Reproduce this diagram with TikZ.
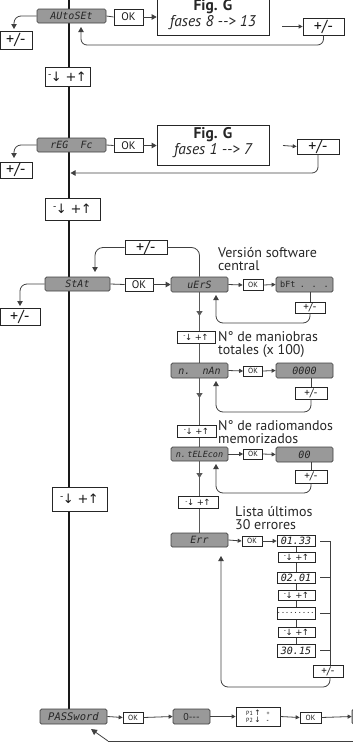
\documentclass[tikz,border=0pt]{standalone}
\usepackage{fontspec}
\setmainfont{PT Sans}
\newfontfamily\djv{DejaVu Sans}
\newfontfamily\lcdf{DejaVu Sans Mono}
\usetikzlibrary{arrows.meta,backgrounds}
\newcommand\udt{{\djv\raisebox{0.55ex}{\scalebox{0.7}{-}}\kern-0.05em↓\hspace{0.3em}+\kern-0.05em↑}}
\newcommand\lblf{\fontsize{14}{13}\selectfont}
\tikzset{
  sz/.style 2 args={minimum width=#1pt, minimum height=#2pt},
  disp/.style={draw=black!75, fill=black!40, rounded corners=1.5pt, line width=0.7pt, inner sep=0pt, text=black!85, font=\lcdf\itshape\fontsize{10}{10}\selectfont},
  wb/.style={draw=black!85, fill=white, line width=0.7pt, inner sep=0pt, text=black!90},
  okbig/.style={wb, font=\fontsize{11}{11}\selectfont},
  oksm/.style={wb, font=\fontsize{7.5}{7.5}\selectfont},
  pmbig/.style={wb, font=\fontsize{16}{16}\selectfont},
  pmsm/.style={wb, font=\fontsize{11}{11}\selectfont},
  udbig/.style={wb, font=\fontsize{13}{13}\selectfont},
  udsm/.style={wb, font=\fontsize{8.5}{8.5}\selectfont},
  errbox/.style={wb, font=\lcdf\itshape\fontsize{10}{10}\selectfont},
  con/.style={draw=black!75, line width=0.8pt},
  arr/.style={con, -{Triangle[length=5pt,width=5.5pt]}},
  sarr/.style={con, -{Triangle[length=4pt,width=4pt]}},
  mainl/.style={draw=black!90, line width=2pt},
  subl/.style={draw=black!65, line width=1.4pt},
  lbl/.style={anchor=west, inner sep=0pt, align=left, font=\lblf, text=black!85},
  figt/.style={inner sep=0pt, font=\fontsize{15}{15}\selectfont, text=black!85}
}
\begin{document}
\begin{tikzpicture}[x=1pt,y=-1pt]
\clip (0,0) rectangle (353,742);
% ---------- AUtoSEt row ----------
\node[disp, sz={69}{14}] (auto) at (71.5,16) {AUtoSEt};
\node[okbig, sz={29}{16}] (ok1) at (128.5,17) {OK};
\node[wb, sz={112}{44}] (fig1) at (213,13) {};
\node[figt, font=\bfseries\fontsize{15.5}{15}\selectfont] (fig1a) at (213,7) {Fig. G};
\node[figt, font=\itshape\fontsize{15.5}{15}\selectfont] (fig1b) at (213,23) {fases 8 -\kern0pt-\kern0pt> 13};
\coordinate (a1s) at (282,26.5);
\node[pmbig, sz={41}{17}] (pm1) at (323.5,26.5) {+/-};
\node[pmbig, sz={32}{18}] (pmL1) at (16,40) {+/-};
\coordinate (l1) at (14,29);
\coordinate (c1) at (81,45);
\coordinate (t1) at (81,27);
\draw[con] (auto.east) -- (ok1.west);
\draw[arr] (ok1.east) -- (fig1.west |- ok1.east);
\draw[sarr] (a1s) -- (pm1.west);
\draw[arr, rounded corners=6pt] (pm1.south) |- (c1) -- (t1);
\draw[arr, rounded corners=7pt] (auto.west) -| (l1);
\node[udbig, sz={45}{19}] (ud1) at (67.5,76.5) {\udt};
% ---------- rEG Fc row ----------
\node[disp, sz={69}{14}] (reg) at (71.5,145) {rEG\ \ Fc};
\node[okbig, sz={29}{14}] (ok2) at (128.5,145.5) {OK};
\node[wb, sz={112}{40}] (fig2) at (213,145) {};
\node[figt, font=\bfseries\fontsize{15.5}{15}\selectfont] (fig2a) at (213,135) {Fig. G};
\node[figt, font=\itshape\fontsize{15.5}{15}\selectfont] (fig2b) at (213,151) {fases 1 -\kern0pt-\kern0pt> 7};
\coordinate (a2s) at (283,145.5);
\node[pmbig, sz={42}{15}] (pm2) at (318,146.5) {+/-};
\node[pmbig, sz={32}{16}] (pmL2) at (16,170) {+/-};
\coordinate (l2) at (14,158);
\coordinate (c2) at (318,173);
\coordinate (t2) at (70.5,173);
\draw[con] (reg.east) -- (ok2.west);
\draw[arr] (ok2.east) -- (fig2.west |- ok2.east);
\draw[sarr] (a2s) -- (pm2.west);
\draw[arr, rounded corners=6pt] (pm2.south) -- (c2) -- (t2);
\draw[arr, rounded corners=7pt] (reg.west) -| (l2);
\node[udbig, sz={55}{22}] (ud2) at (72.5,209) {\udt};
% ---------- STAt row ----------
\node[disp, sz={65}{14}] (stat) at (77.5,284) {StAt};
\node[okbig, sz={28}{13}] (okS) at (139,284.5) {OK};
\node[disp, sz={57}{15}] (uers) at (199.5,284.5) {uErS};
\node[pmbig, sz={42}{13}] (pmtop) at (146,247.5) {+/-};
\node[pmbig, sz={40}{17}] (pmL3) at (20,316.5) {+/-};
\coordinate (l3) at (20,306);
\coordinate (l4) at (95,272);
\draw[con] (stat.east) -- (okS.west);
\draw[arr] (okS.east) -- (uers.west);
\draw[con, rounded corners=8pt] (pmtop.east) -| (uers.north);
\draw[arr, rounded corners=8pt] (pmtop.west) -| (l4);
\draw[arr, rounded corners=7pt] (stat.west) -| (l3);
\node[lbl] (txv) at (218,259) {Versión software\\central};
% uErS sub row
\node[oksm, sz={20}{11}] (okv) at (253,285) {OK};
\node[disp, sz={57}{15}, font=\lcdf\fontsize{8.5}{8.5}\selectfont] (bft) at (304.5,284.5) {bFt\enspace. . .};
\node[pmsm, sz={30}{11}] (pmv) at (310,307.5) {+/-};
\coordinate (c3) at (216,323);
\coordinate (t3) at (216,295);
\draw[sarr] (uers.east) -- (okv.west);
\draw[sarr] (okv.east) -- (bft.west);
\draw[con] (pmv.north |- bft.south) -- (pmv.north);
\draw[arr, rounded corners=7pt] (pmv.south) |- (c3) -- (t3);
% n. nAn
\node[udsm, sz={38}{12}] (udA) at (196,337) {\udt};
\node[lbl] (txn) at (218,345) {N° de maniobras\\totales (x 100)};
\node[disp, sz={57}{15}] (nman) at (199.5,370.5) {n.\ \ nAn};
\node[oksm, sz={19}{10}] (okn) at (253,371) {OK};
\node[disp, sz={57}{15}] (v0000) at (304.5,370.5) {0000};
\node[pmsm, sz={32}{12}] (pmn) at (311,393) {+/-};
\coordinate (c4) at (216,412);
\coordinate (t4) at (216,381);
\draw[sarr] (nman.east) -- (okn.west);
\draw[sarr] (okn.east) -- (v0000.west);
\draw[con] (pmn.north |- v0000.south) -- (pmn.north);
\draw[arr, rounded corners=7pt] (pmn.south) |- (c4) -- (t4);
% n. tELEcon
\node[udsm, sz={39}{12}] (udB) at (196.5,431) {\udt};
\node[lbl] (txr) at (218,432) {N° de radiomandos\\memorizados};
\node[disp, sz={57}{14}, font=\lcdf\itshape\fontsize{8.5}{8.5}\selectfont] (ntel) at (199.5,454) {n.\,tELEcon};
\node[oksm, sz={19}{10}] (okt) at (253,454) {OK};
\node[disp, sz={57}{15}] (v00) at (304.5,454.5) {00};
\node[pmsm, sz={32}{13}] (pmt) at (311,476.5) {+/-};
\coordinate (c5) at (216,493);
\coordinate (t5) at (216,464);
\draw[sarr] (ntel.east) -- (okt.west);
\draw[sarr] (okt.east) -- (v00.west);
\draw[con] (pmt.north |- v00.south) -- (pmt.north);
\draw[arr, rounded corners=7pt] (pmt.south) |- (c5) -- (t5);
% Err
\node[udsm, sz={40}{12}] (udC) at (198,502.5) {\udt};
\node[lbl] (txe) at (235,518) {Lista últimos\\30 errores};
\node[disp, sz={57}{14}] (err) at (199.5,540) {Err};
\node[oksm, sz={20}{10}] (oke) at (252,541) {OK};
\node[errbox, sz={38}{11}] (e1) at (296,541) {01.33};
\node[udsm, sz={37}{10}] (ue1) at (296.5,557) {\udt};
\node[errbox, sz={38}{11}] (e2) at (296,577.5) {02.01};
\node[udsm, sz={37}{10}] (ue2) at (296.5,595) {\udt};
\node[errbox, sz={38}{12}] (e3) at (296,613) {\fontsize{7}{7}\selectfont .........};
\node[udsm, sz={37}{10}] (ue3) at (296.5,632) {\udt};
\node[errbox, sz={38}{13}] (e4) at (296,650.5) {30.15};
\node[pmsm, sz={30}{12}] (pme) at (328,671) {+/-};
\coordinate (bk) at (330,541);
\coordinate (c6) at (221,687);
\coordinate (t6) at (221,556);
\draw[sarr] (err.east) -- (oke.west);
\draw[sarr] (oke.east) -- (e1.west);
\draw[con] ([xshift=5pt]e1.east) -- (bk) -- (bk |- pme.north);
\draw[con] ([xshift=5pt]e2.east) -- (e2.east -| bk);
\draw[con] ([xshift=5pt]e3.east) -- (e3.east -| bk);
\draw[con] ([xshift=5pt]e4.east) -- (e4.east -| bk);
\draw[arr, rounded corners=7pt] (bk |- pme.south) |- (c6) -- (t6);
% sub column arrows
\coordinate (s1) at (199.5,316);
\coordinate (s2) at (199.5,398);
\coordinate (s3) at (199.5,478);
\draw[arr, draw=black!65, line width=1.4pt, -{Triangle[length=5pt,width=6pt]}] (uers.south) -- (s1);
\draw[arr, draw=black!65, line width=1.4pt, -{Triangle[length=5pt,width=6pt]}] (nman.south) -- (s2);
\draw[arr, draw=black!65, line width=1.4pt, -{Triangle[length=5pt,width=6pt]}] (ntel.south) -- (s3);
% ---------- main line boxes ----------
\node[udbig, sz={55}{24}] (ud3) at (79.5,499) {\udt};
% ---------- PASSword row ----------
\node[disp, sz={67}{15}, font=\lcdf\itshape\fontsize{10.5}{10.5}\selectfont] (pass) at (73.5,716.5) {PASSword};
\node[oksm, sz={20}{11}] (okp1) at (133,717.5) {OK};
\node[disp, sz={37}{15}, font=\fontsize{10}{10}\selectfont] (zero) at (191.5,716.5) {0-\kern0pt-\kern0pt-};
\node[wb, sz={44}{19}, align=left, font=\fontsize{6}{6.5}\selectfont] (p12) at (258,716.5) {P1 {\djv\fontsize{7.5}{6.5}\selectfont↑}\quad+\\P2 {\djv\fontsize{7.5}{6.5}\selectfont↓}\quad\textbf{-}};
\node[oksm, sz={21}{11}] (okp2) at (310.5,717.5) {OK};
\node[disp, sz={36}{15}] (lastb) at (370,716.5) {};
\draw[sarr] (pass.east) -- (okp1.west);
\draw[sarr] (okp1.east) -- (zero.west);
\draw[sarr] (zero.east) -- (p12.west);
\draw[sarr] (p12.east) -- (okp2.west);
\draw[sarr] (okp2.east) -- (lastb.west);
\coordinate (br) at (360,741);
\coordinate (bc) at (108,741);
\coordinate (bt) at (91,729);
\draw[con] (br) -- (bc);
\draw[arr, -{Triangle[length=6pt,width=6pt]}] (bc) -- (bt);
% ---------- background lines ----------
\begin{pgfonlayer}{background}
\coordinate (top) at (69,-2);
\draw[mainl] (top) -- (top |- pass.north);
\draw[subl] (uers.south) -- (err.north);
\draw[con] (e1.south) -- (e4.north);
\end{pgfonlayer}
\end{tikzpicture}
\end{document}
